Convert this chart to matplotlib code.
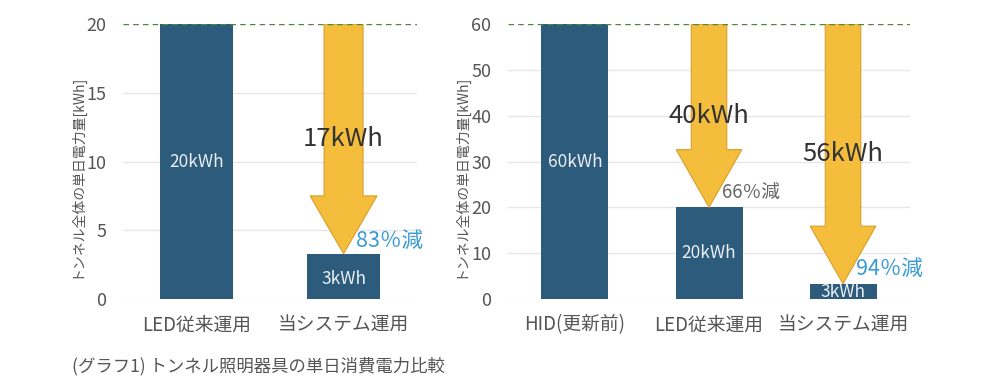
import matplotlib
matplotlib.use('Agg')
import matplotlib.pyplot as plt

plt.rcParams['font.family'] = ['Noto Sans CJK JP', 'DejaVu Sans']

# データ
left_cats = ['LED従来運用', '当システム運用']
left_vals = [20, 3.3]
left_bar_labels = ['20kWh', '3kWh']
left_ticks = [0, 5, 10, 15, 20]
left_arrows = [(1, 20, 3.3, '17kWh', '83％減', '#3a9ad4', 15.5)]

right_cats = ['HID(更新前)', 'LED従来運用', '当システム運用']
right_vals = [60, 20, 3.3]
right_bar_labels = ['60kWh', '20kWh', '3kWh']
right_ticks = [0, 10, 20, 30, 40, 50, 60]
right_arrows = [(1, 60, 20, '40kWh', '66％減', '#666666', 13.5),
                (2, 60, 3.3, '56kWh', '94％減', '#3a9ad4', 15.5)]

ylabel = 'トンネル全体の単日電力量[kWh]'
caption = '(グラフ1) トンネル照明器具の単日消費電力比較'

BAR = '#2d5b7c'
ARROW = '#f4bd3b'
ARROW_EDGE = '#d99f2a'
GRID = '#e6e6e6'


def draw(ax, cats, vals, bar_labels, ticks, arrows, text_pos, ylab_x, head_w):
    ymax = ticks[-1]
    x = range(len(cats))
    ax.bar(x, vals, width=0.5, color=BAR, zorder=2)
    for i, (v, lab) in enumerate(zip(vals, bar_labels)):
        ax.text(i, v / 2 if v > 5 else v * 0.45, lab, ha='center', va='center',
                color='#e9eff4', fontsize=12.5, zorder=4)

    # グリッド
    for t in ticks[:-1]:
        ax.axhline(t, color=GRID, lw=1, zorder=1)
    ax.axhline(ymax, color='#4a8a3a', lw=1, ls=(0, (4, 3)), zorder=5)

    head_len = 0.21 * ymax
    for xi, y0, y1, dlab, plab, pcol, pfs in arrows:
        ax.arrow(xi, y0, 0, y1 - y0, width=0.265, head_width=head_w,
                 head_length=head_len, length_includes_head=True,
                 fc=ARROW, ec=ARROW_EDGE, lw=0.8, zorder=3)
        ax.text(xi, (y0 + y1) / 2, dlab, ha='center', va='center',
                fontsize=18.5, color='#333333', zorder=4)
        ax.annotate(plab, xy=(xi, y1), xytext=(text_pos[0], text_pos[1]),
                    textcoords='offset points', ha='left', va='center',
                    fontsize=pfs, color=pcol, zorder=4)

    ax.set_xlim(-0.5, len(cats) - 0.5)
    ax.set_ylim(0, ymax)
    ax.set_xticks(list(x))
    ax.set_xticklabels(cats, fontsize=13.5, color='#555555')
    ax.set_yticks(ticks)
    ax.tick_params(axis='y', labelsize=13, colors='#555555', length=0, pad=12)
    ax.tick_params(axis='x', length=0, pad=11)
    for s in ax.spines.values():
        s.set_visible(False)
    ax.set_ylabel(ylabel, fontsize=10, color='#555555')
    ax.yaxis.set_label_coords(ylab_x, 0.447)


fig = plt.figure(figsize=(9.82, 3.9), dpi=100)
ax1 = fig.add_axes([0.1253, 0.2333, 0.2994, 0.7051])
ax2 = fig.add_axes([0.5173, 0.2333, 0.4094, 0.7051])

draw(ax1, left_cats, left_vals, left_bar_labels, left_ticks, left_arrows, (9, 9), -0.136, 0.455)
draw(ax2, right_cats, right_vals, right_bar_labels, right_ticks, right_arrows, (9, 11), -0.102, 0.49)

fig.text(0.073, 0.062, caption, fontsize=12.5, color='#555555', ha='left', va='center')

fig.savefig('out.png', dpi=100, facecolor='white')
